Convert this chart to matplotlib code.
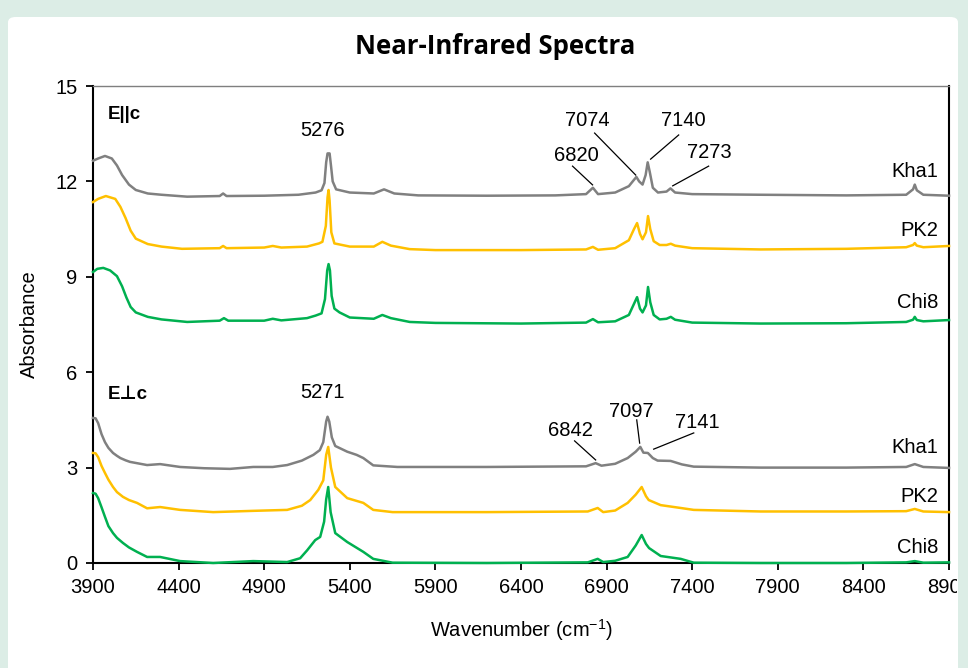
import matplotlib
matplotlib.use("Agg")
import matplotlib.pyplot as plt
from matplotlib.patches import FancyBboxPatch
from matplotlib.transforms import Bbox

plt.rcParams['font.family'] = ['Liberation Sans', 'DejaVu Sans']
plt.rcParams['mathtext.fontset'] = 'custom'
plt.rcParams['mathtext.rm'] = 'Liberation Sans'
plt.rcParams['mathtext.it'] = 'Liberation Sans:italic'

# ---- data (wavenumber, absorbance) ----
par_kha1 = [(3900, 12.65), (3930, 12.72), (3970, 12.8), (4010, 12.72), (4040, 12.5),
            (4070, 12.2), (4110, 11.9), (4150, 11.73), (4220, 11.62), (4300, 11.58),
            (4450, 11.52), (4640, 11.54), (4660, 11.62), (4680, 11.54), (4900, 11.55),
            (5100, 11.58), (5200, 11.65), (5235, 11.72), (5252, 11.95), (5262, 12.6),
            (5270, 12.88), (5282, 12.88), (5290, 12.5), (5300, 12.0), (5320, 11.75),
            (5400, 11.65), (5540, 11.62), (5600, 11.75), (5660, 11.62), (5800, 11.56),
            (6200, 11.55), (6600, 11.56), (6780, 11.6), (6820, 11.8), (6850, 11.6),
            (6950, 11.65), (7030, 11.85), (7060, 12.05), (7074, 12.14), (7090, 12.0),
            (7110, 11.9), (7128, 12.2), (7140, 12.6), (7152, 12.3), (7170, 11.8),
            (7200, 11.65), (7250, 11.68), (7273, 11.78), (7300, 11.65), (7400, 11.6),
            (7800, 11.58), (8300, 11.56), (8650, 11.58), (8690, 11.75), (8700, 11.9),
            (8712, 11.72), (8750, 11.58), (8900, 11.55)]

par_pk2 = [(3900, 11.35), (3930, 11.45), (3975, 11.54), (4030, 11.45), (4060, 11.2),
           (4090, 10.85), (4120, 10.45), (4150, 10.2), (4220, 10.03), (4300, 9.95),
           (4420, 9.88), (4640, 9.9), (4660, 9.97), (4680, 9.9), (4900, 9.92),
           (4950, 9.97), (5000, 9.92), (5150, 9.95), (5220, 10.05), (5240, 10.1),
           (5260, 10.6), (5270, 11.5), (5276, 11.73), (5282, 11.4), (5292, 10.4),
           (5310, 10.05), (5400, 9.95), (5540, 9.95), (5590, 10.1), (5640, 9.98),
           (5750, 9.87), (5900, 9.84), (6400, 9.84), (6780, 9.86), (6820, 9.94),
           (6850, 9.85), (6950, 9.9), (7030, 10.15), (7060, 10.5), (7078, 10.69),
           (7095, 10.35), (7110, 10.18), (7130, 10.4), (7142, 10.91), (7155, 10.5),
           (7175, 10.12), (7210, 10.0), (7250, 10.0), (7275, 10.04), (7300, 9.98),
           (7400, 9.9), (7800, 9.86), (8300, 9.88), (8650, 9.93), (8690, 10.0),
           (8700, 10.06), (8712, 9.98), (8750, 9.93), (8900, 9.97)]

par_chi8 = [(3900, 9.15), (3925, 9.25), (3960, 9.28), (4000, 9.2), (4040, 9.02),
            (4070, 8.7), (4095, 8.35), (4120, 8.05), (4150, 7.88), (4220, 7.74),
            (4300, 7.66), (4450, 7.58), (4640, 7.62), (4665, 7.7), (4690, 7.62),
            (4900, 7.62), (4950, 7.68), (5000, 7.63), (5150, 7.7), (5200, 7.78),
            (5235, 7.85), (5255, 8.3), (5268, 9.2), (5276, 9.4), (5284, 9.2),
            (5294, 8.4), (5310, 8.0), (5340, 7.88), (5400, 7.72), (5540, 7.68),
            (5590, 7.8), (5640, 7.7), (5750, 7.58), (5900, 7.55), (6400, 7.53),
            (6780, 7.56), (6820, 7.67), (6850, 7.57), (6950, 7.6), (7030, 7.8),
            (7060, 8.15), (7078, 8.36), (7095, 8.0), (7110, 7.88), (7130, 8.1),
            (7142, 8.68), (7155, 8.2), (7175, 7.8), (7210, 7.66), (7250, 7.68),
            (7275, 7.74), (7300, 7.65), (7400, 7.56), (7800, 7.53), (8300, 7.54),
            (8650, 7.58), (8690, 7.65), (8700, 7.74), (8712, 7.64), (8750, 7.6),
            (8900, 7.64)]

perp_kha1 = [(3900, 4.56), (3915, 4.55), (3930, 4.4), (3950, 4.05), (3970, 3.8),
             (3990, 3.62), (4017, 3.46), (4040, 3.37), (4060, 3.3), (4090, 3.23),
             (4116, 3.18), (4216, 3.08), (4292, 3.11),
             (4409, 3.02), (4550, 2.98), (4700, 2.96), (4836, 3.02), (4950, 3.02),
             (5034, 3.08), (5120, 3.22), (5187, 3.4), (5225, 3.55), (5245, 3.8),
             (5262, 4.45), (5270, 4.6), (5280, 4.45), (5295, 3.95), (5315, 3.68),
             (5385, 3.5), (5440, 3.4), (5479, 3.3), (5537, 3.07), (5678, 3.02),
             (6200, 3.02), (6780, 3.04), (6836, 3.14), (6870, 3.06), (6950, 3.12),
             (7023, 3.3), (7070, 3.5), (7097, 3.65), (7115, 3.47), (7141, 3.46),
             (7170, 3.3), (7198, 3.22), (7274, 3.21), (7340, 3.1), (7409, 3.03),
             (7800, 3.0), (8300, 3.0), (8650, 3.02), (8700, 3.11), (8750, 3.02),
             (8900, 2.99)]

perp_pk2 = [(3900, 3.46), (3915, 3.45), (3930, 3.33), (3950, 3.05), (3970, 2.83),
            (3990, 2.62), (4017, 2.39), (4040, 2.23), (4075, 2.08), (4110, 1.98),
            (4157, 1.89), (4216, 1.72), (4292, 1.76),
            (4409, 1.67), (4602, 1.6), (4836, 1.64), (5034, 1.67), (5120, 1.8),
            (5169, 1.98), (5216, 2.3), (5245, 2.6), (5262, 3.4), (5274, 3.65),
            (5290, 3.0), (5315, 2.39), (5385, 2.04), (5479, 1.89), (5537, 1.67),
            (5650, 1.6), (6200, 1.6), (6790, 1.62), (6848, 1.73), (6880, 1.6),
            (6950, 1.65), (7023, 1.89), (7070, 2.15), (7105, 2.39), (7130, 2.1),
            (7146, 1.98), (7216, 1.82), (7333, 1.73), (7409, 1.67), (7800, 1.62),
            (8300, 1.62), (8650, 1.63), (8700, 1.7), (8750, 1.62), (8900, 1.6)]

perp_chi8 = [(3900, 2.2), (3915, 2.18), (3930, 2.04), (3950, 1.75), (3970, 1.45),
             (3990, 1.16), (4017, 0.94), (4040, 0.79), (4075, 0.63), (4110, 0.49),
             (4157, 0.35), (4216, 0.19), (4292, 0.19),
             (4409, 0.06), (4602, 0.0), (4836, 0.06), (5034, 0.03), (5110, 0.15),
             (5151, 0.4), (5198, 0.72), (5227, 0.82), (5250, 1.3), (5262, 2.0),
             (5274, 2.39), (5288, 1.6), (5315, 0.94), (5385, 0.66), (5479, 0.35),
             (5537, 0.13), (5650, 0.01), (6200, 0.0), (6790, 0.02), (6848, 0.13),
             (6880, 0.03), (6950, 0.07), (7023, 0.19), (7070, 0.55), (7105, 0.88),
             (7130, 0.6), (7148, 0.47), (7216, 0.22), (7333, 0.13), (7409, 0.01),
             (7800, 0.0), (8300, 0.0), (8650, 0.02), (8700, 0.06), (8750, 0.01),
             (8900, 0.02)]

sample_names = ["Kha1", "PK2", "Chi8"]
colors = ["#808080", "#ffc000", "#00b050"]
x_ticks = [3900, 4400, 4900, 5400, 5900, 6400, 6900, 7400, 7900, 8400, 8900]
y_ticks = [0, 3, 6, 9, 12, 15]

# peak labels: (text, text_x, text_y, line_from, line_to)
peak_labels = [
    ("5276", 5239, 13.6, None, None),
    ("6820", 6725, 12.83, (6701, 12.48), (6818, 11.89)),
    ("7074", 6789, 13.93, (6830, 13.52), (7070, 12.2)),
    ("7140", 7350, 13.93, (7321, 13.46), (7157, 12.7)),
    ("7273", 7502, 12.9, (7496, 12.48), (7286, 11.86)),
    ("5271", 5239, 5.35, None, None),
    ("6842", 6690, 4.18, (6713, 3.84), (6836, 3.24)),
    ("7097", 7046, 4.75, (7076, 4.5), (7093, 3.77)),
    ("7141", 7427, 4.43, (7409, 4.09), (7175, 3.58)),
]
name_y = [12.3, 10.47, 8.18, 3.62, 2.08, 0.5]

W, H = 968, 668
fig = plt.figure(figsize=(W / 100, H / 100), dpi=100, facecolor="#dcede6")
# white card with mint margin around it (top/left/right)
panel = FancyBboxPatch((8 / W, -0.05), 950 / W, 1.05 - 17 / H,
                       boxstyle="round,pad=0,rounding_size=0.008",
                       transform=fig.transFigure, facecolor="white",
                       edgecolor="none", zorder=-5)
fig.patches.append(panel)

ax = fig.add_axes([93 / W, 1 - 563 / H, 856 / W, 477 / H])
ax.set_zorder(2)
ax.set_facecolor("white")

groups = [(par_kha1, par_pk2, par_chi8), (perp_kha1, perp_pk2, perp_chi8)]
for group in groups:
    for series, c in zip(group, colors):
        xs = [p[0] for p in series]
        ys = [p[1] for p in series]
        ax.plot(xs, ys, color=c, lw=1.8, solid_joinstyle="round", clip_on=False, zorder=3)

for txt, tx, ty, p0, p1 in peak_labels:
    ax.text(tx, ty, txt, ha="center", va="center", fontsize=14.5)
    if p0 is not None:
        ax.plot([p0[0], p1[0]], [p0[1], p1[1]], color="black", lw=0.9)

for i, yy in enumerate(name_y):
    ax.text(8836, yy, sample_names[i % 3], ha="right", va="center", fontsize=14.5)

ax.text(3988, 14.1, "E||c", ha="left", va="center", fontsize=13.5, fontweight="bold")
ax.text(3988, 5.31, "E\u22a5c", ha="left", va="center", fontsize=13.5, fontweight="bold")

ax.set_xlim(3900, 8900)
ax.set_ylim(0, 15)
ax.set_xticks(x_ticks)
ax.set_yticks(y_ticks)
ax.tick_params(direction="out", length=5, width=1.3, labelsize=14.5, color="black", pad=6)
for side in ["left", "bottom", "right"]:
    ax.spines[side].set_linewidth(1.5)
    ax.spines[side].set_color("black")
ax.spines["top"].set_linewidth(1.0)
ax.spines["top"].set_color("#7f7f7f")

ax.set_xlabel("Wavenumber (cm$^{-1}$)", fontsize=14.5, labelpad=14)
ax.set_ylabel("Absorbance", fontsize=14.5, labelpad=12)

fig.text(495 / W, 1 - 47 / H, "Near-Infrared Spectra", ha="center", va="center",
         fontsize=18.5, fontweight="bold", family="Open Sans")

# last tick label is cut off by the card edge in the original
fig.canvas.draw()
clip = Bbox.from_extents(0, 0, 957, H)
for lab in ax.get_xticklabels():
    lab.set_clip_on(True)
    lab.set_clip_box(clip)

fig.savefig("out.png", dpi=100, facecolor=fig.get_facecolor())
